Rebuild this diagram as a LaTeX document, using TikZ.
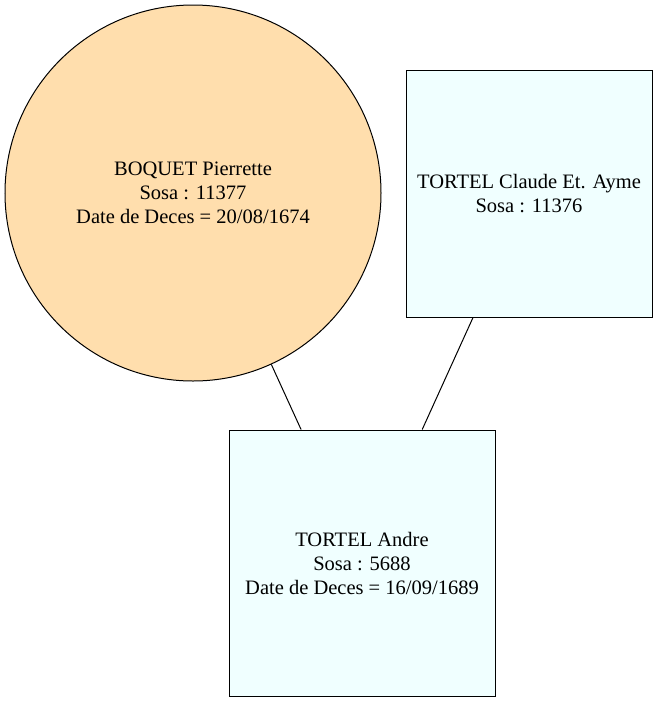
\documentclass[tikz,border=0pt]{standalone}
\usepackage{fontspec}
\setmainfont{Liberation Serif}
\usepackage{tikz}

\definecolor{femme}{RGB}{255,222,173}
\definecolor{homme}{RGB}{240,255,255}

\begin{document}
\begin{tikzpicture}[x=1pt,y=-1pt,
  personne/.style={draw=black, line width=1pt, inner sep=0pt, align=center,
    font=\fontsize{20.5}{24}\selectfont},
  lien/.style={line width=1pt}]
\useasboundingbox (0,0) rectangle (659,702);
%
\node[personne, circle, fill=femme, minimum size=376pt] (boquet) at (193,193)
  {BOQUET Pierrette\\Sosa : 11377\\Date de Deces = 20/08/1674};
\node[personne, rectangle, fill=homme, minimum width=246pt, minimum height=247pt] (claude) at (529,193.5)
  {TORTEL Claude Et. Ayme\\Sosa : 11376};
\node[personne, rectangle, fill=homme, minimum width=266pt, minimum height=266pt] (andre) at (362,563)
  {TORTEL Andre\\Sosa : 5688\\Date de Deces = 16/09/1689};
%
\draw[lien] (boquet) -- (andre);
\draw[lien] (claude) -- (andre);
\end{tikzpicture}
\end{document}
